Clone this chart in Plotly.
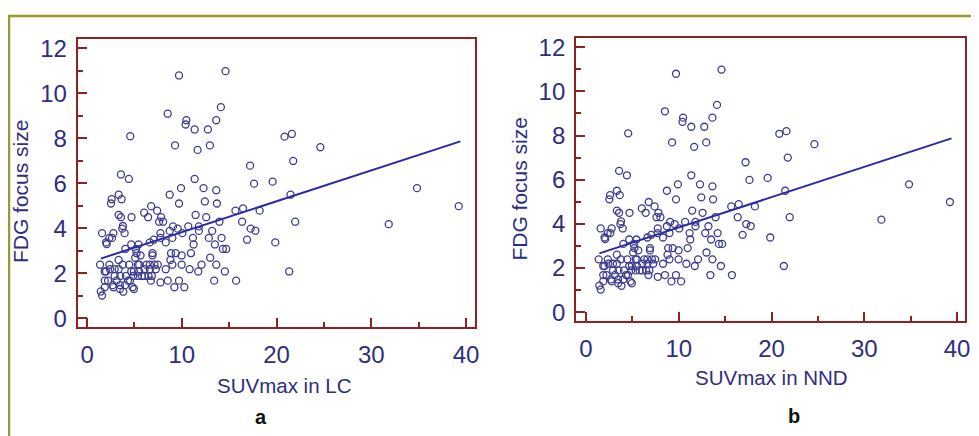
import plotly.graph_objects as go

# page body adds an 8px margin, so the figure is drawn 8px smaller and shifted
OFF = 8
W, H = 979 - OFF, 436 - OFF

# SUVmax (LC) and FDG focus size
suv_lc = [9.70, 14.61, 8.51, 14.12, 10.47, 10.40, 13.63, 11.35, 12.75, 4.55, 9.28, 12.96, 11.66,
          20.84, 21.61, 24.62, 21.75, 17.20, 17.62, 19.58, 3.57, 4.41, 11.35, 9.91, 12.29, 13.63,
          8.72, 3.33, 2.59, 2.52, 3.64, 9.70, 12.43, 13.70, 21.47, 34.82, 39.23, 31.84, 21.96,
          19.86, 21.33, 15.66, 16.46, 18.21, 16.36, 17.27, 17.76, 16.88, 15.73, 14.54, 13.97,
          12.57, 11.45, 6.76, 7.39, 6.02, 6.44, 7.81, 4.69, 3.33, 3.57, 8.02, 7.60, 3.78, 3.71,
          3.96, 1.58, 2.77, 2.63, 2.07, 2.00, 2.35, 11.80, 10.68, 11.80, 9.07, 8.72, 9.56, 10.05,
          7.74, 7.74, 9.00, 8.30, 7.04, 6.62, 11.17, 11.24, 13.20, 12.85, 14.19, 13.49, 14.33,
          14.68, 4.66, 4.03, 5.43, 5.15, 5.22, 5.08, 5.64, 6.90, 6.90, 3.33, 8.86, 9.35, 8.79,
          9.98, 10.96, 9.00, 9.98, 8.30, 10.82, 12.08, 11.73, 12.99, 13.63, 13.41, 9.70, 8.51,
          7.74, 9.21, 10.26, 6.73, 1.37, 1.58, 1.44, 1.86, 1.86, 1.86, 2.35, 2.42, 2.77, 2.91,
          3.12, 3.33, 3.75, 3.47, 3.82, 4.10, 4.31, 4.45, 4.66, 4.00, 4.80, 4.94, 4.87, 5.36,
          5.50, 5.78, 6.06, 6.27, 6.62, 6.83, 7.11, 7.25, 7.46, 4.94, 5.50, 6.06, 4.52, 3.50,
          2.91, 2.00, 2.70, 2.21, 3.47, 6.62, 5.36, 6.48]
focus_size = [10.80, 10.99, 9.10, 9.39, 8.81, 8.62, 8.81, 8.40, 8.40, 8.10, 7.69, 7.69, 7.49,
              8.08, 8.20, 7.61, 7.00, 6.79, 5.99, 6.08, 6.40, 6.20, 6.20, 5.79, 5.79, 5.70,
              5.50, 5.50, 5.30, 5.11, 5.30, 5.11, 5.20, 5.11, 5.50, 5.79, 4.99, 4.19, 4.30,
              3.38, 2.09, 4.79, 4.89, 4.79, 4.30, 3.99, 3.90, 3.50, 1.68, 2.09, 4.30, 4.50,
              4.60, 4.99, 4.79, 4.70, 4.50, 4.50, 4.50, 4.60, 4.50, 4.30, 4.30, 4.11, 3.99,
              3.79, 3.79, 3.79, 3.58, 3.31, 3.38, 3.58, 4.09, 4.09, 3.89, 4.09, 3.89, 3.99,
              3.79, 3.79, 3.58, 3.58, 3.38, 3.50, 3.38, 3.58, 3.29, 3.89, 3.58, 3.58, 3.29,
              3.09, 3.09, 3.29, 3.09, 3.29, 3.09, 2.90, 2.70, 2.80, 2.90, 2.80, 2.60, 2.90,
              2.90, 2.60, 2.80, 2.90, 2.39, 2.39, 2.19, 2.19, 2.39, 2.09, 2.70, 2.39, 1.68,
              1.68, 1.68, 1.60, 1.39, 1.39, 1.68, 2.39, 1.02, 1.20, 1.39, 1.68, 2.09, 2.39,
              2.19, 1.39, 1.89, 1.68, 2.19, 2.39, 1.48, 1.19, 1.89, 1.68, 2.39, 2.09, 1.48,
              1.39, 1.31, 1.89, 2.39, 2.09, 1.89, 2.19, 2.39, 2.19, 1.89, 2.39, 2.19, 2.39,
              2.09, 2.39, 1.89, 1.68, 1.89, 2.19, 2.09, 1.48, 1.68, 1.31, 2.39, 1.89, 1.89]

# Panel b shows the same scatter against SUVmax in NND
suv_nnd = list(suv_lc)
focus_size_nnd = list(focus_size)

# Regression line ends
fit_x = [1.44, 39.4]
fit_y = [2.66, 7.87]

x_ticks = [0, 10, 20, 30, 40]
y_ticks = [0, 2, 4, 6, 8, 10, 12]

NAVY = "#2e2e80"
MARK = "#3c3c90"
LINE = "#2b2ba6"
FRAME = "#8b2323"
OLIVE = "#9a9830"
FONT = "Liberation Sans, Arial, sans-serif"

def px(x):
    return (x - OFF) / W

def py(y):
    return 1 - (y - OFF) / H

fig = go.Figure()
for xa, ya, xs, ys in [("x", "y", suv_lc, focus_size), ("x2", "y2", suv_nnd, focus_size_nnd)]:
    fig.add_trace(go.Scatter(x=xs, y=ys, mode="markers", xaxis=xa, yaxis=ya,
                             marker=dict(symbol="circle-open", size=7, color=MARK,
                                         line=dict(width=1.3, color=MARK)),
                             showlegend=False, hoverinfo="skip"))
    fig.add_trace(go.Scatter(x=fit_x, y=fit_y, mode="lines", xaxis=xa, yaxis=ya,
                             line=dict(color=LINE, width=2), showlegend=False, hoverinfo="skip"))

def xaxis(domain, rng, anchor):
    return dict(domain=domain, range=rng, anchor=anchor, tickvals=x_ticks,
                ticks="inside", ticklen=9, tickwidth=2, tickcolor=FRAME,
                minor=dict(dtick=5, tick0=0, ticks="inside", ticklen=5, tickwidth=2, tickcolor=FRAME),
                showline=True, linecolor=FRAME, linewidth=2, mirror=True,
                showgrid=False, zeroline=False, ticklabelstandoff=5,
                ticklabeloverflow="allow",
                tickfont=dict(family=FONT, size=24, color=NAVY))

def yaxis(domain, rng, anchor):
    return dict(domain=domain, range=rng, anchor=anchor, tickvals=y_ticks,
                ticks="inside", ticklen=9, tickwidth=2, tickcolor=FRAME,
                minor=dict(dtick=1, tick0=0, ticks="inside", ticklen=5, tickwidth=2, tickcolor=FRAME),
                showline=True, linecolor=FRAME, linewidth=2, mirror=True,
                showgrid=False, zeroline=False, ticklabelstandoff=4,
                ticklabeloverflow="allow",
                tickfont=dict(family=FONT, size=24, color=NAVY))

fig.update_layout(
    width=W, height=H, margin=dict(l=0, r=0, t=0, b=0),
    paper_bgcolor="white", plot_bgcolor="white",
    xaxis=xaxis([px(78), px(477)], [-1.0, 40.9], "y"),
    yaxis=yaxis([py(329), py(35)], [-0.39, 12.4], "x"),
    xaxis2=xaxis([px(579), px(970)], [-1.07, 40.86], "y2"),
    yaxis2=yaxis([py(323), py(34)], [-0.42, 12.4], "x2"),
)

def ann(text, x, y, size, color, angle=0, bold=False):
    fig.add_annotation(text=f"<b>{text}</b>" if bold else text, x=px(x), y=py(y),
                       xref="paper", yref="paper", showarrow=False, textangle=angle,
                       xanchor="center", yanchor="middle",
                       font=dict(family=FONT, size=size, color=color))

ann("SUVmax in LC", 286, 388, 20.5, NAVY)
ann("FDG focus size", 20, 190, 21, NAVY, angle=-90)
ann("SUVmax in NND", 775, 380, 20.5, NAVY)
ann("FDG focus size", 522, 187, 21, NAVY, angle=-90)
ann("a", 262, 421, 20, "#111111", bold=True)
ann("b", 798, 420, 20, "#111111", bold=True)

fig.add_shape(type="line", xref="paper", yref="paper", x0=px(9), x1=px(9), y0=py(11), y1=py(440),
              line=dict(color=OLIVE, width=2.5))
fig.add_shape(type="line", xref="paper", yref="paper", x0=px(8), x1=px(985), y0=py(11), y1=py(11),
              line=dict(color=OLIVE, width=2.5))

fig.write_html("out.html")
